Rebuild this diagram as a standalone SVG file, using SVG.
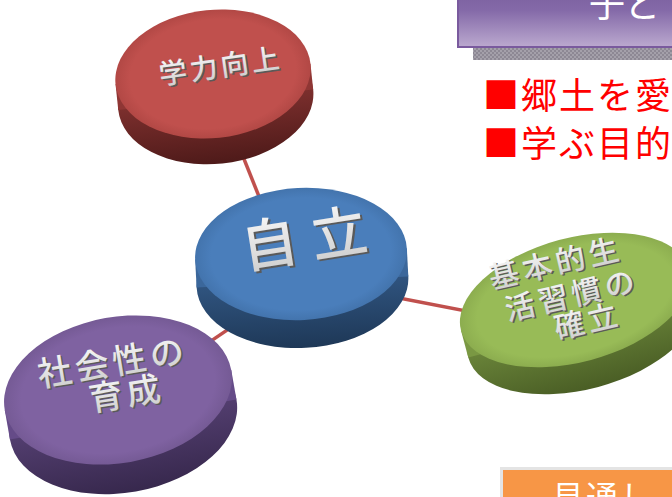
<svg xmlns="http://www.w3.org/2000/svg" width="672" height="497" viewBox="0 0 672 497">
<defs>
<style>
.cjk{font-family:"Noto Sans CJK JP","Noto Sans CJK SC",sans-serif;}
.lbl{font-family:"Noto Sans CJK JP","Noto Sans CJK SC",sans-serif;font-weight:500;text-anchor:middle;}
.sh{fill:#5a5a5a;}
.fg{fill:url(#silver);}
.conn{stroke:#c0504d;stroke-width:3.5;fill:none;}
</style>
<linearGradient id="silver" x1="0" y1="0" x2="0" y2="1">
<stop offset="0" stop-color="#ffffff"/><stop offset="1" stop-color="#c9c9c9"/>
</linearGradient>
<linearGradient id="banner" x1="0" y1="0" x2="0" y2="1">
<stop offset="0" stop-color="#7b5f9f"/><stop offset="0.35" stop-color="#8469a8"/><stop offset="1" stop-color="#bba9cf"/>
</linearGradient>
<pattern id="chk" width="4" height="4" patternUnits="userSpaceOnUse">
<rect width="4" height="4" fill="#a4a0aa"/><rect width="2" height="2" fill="#8d8894"/><rect x="2" y="2" width="2" height="2" fill="#8d8894"/>
</pattern>
<linearGradient id="sideR" x1="0" y1="0" x2="0" y2="1"><stop offset="0" stop-color="#a84341"/><stop offset="1" stop-color="#4e1a19"/></linearGradient>
<linearGradient id="sideB" x1="0" y1="0" x2="0" y2="1"><stop offset="0" stop-color="#416fa6"/><stop offset="1" stop-color="#1e3857"/></linearGradient>
<linearGradient id="sideG" x1="0" y1="0" x2="0" y2="1"><stop offset="0" stop-color="#86a64c"/><stop offset="1" stop-color="#4a5e25"/></linearGradient>
<linearGradient id="sideP" x1="0" y1="0" x2="0" y2="1"><stop offset="0" stop-color="#6d5390"/><stop offset="1" stop-color="#37284d"/></linearGradient>
<radialGradient id="topR" cx="0.5" cy="0.5" r="0.5"><stop offset="0.85" stop-color="#c0504d"/><stop offset="1" stop-color="#b24845"/></radialGradient>
<radialGradient id="topB" cx="0.5" cy="0.5" r="0.5"><stop offset="0.85" stop-color="#4a7ebb"/><stop offset="1" stop-color="#4374ad"/></radialGradient>
<radialGradient id="topG" cx="0.5" cy="0.5" r="0.5"><stop offset="0.85" stop-color="#98bb57"/><stop offset="1" stop-color="#8cad4f"/></radialGradient>
<radialGradient id="topP" cx="0.5" cy="0.5" r="0.5"><stop offset="0.85" stop-color="#7f62a1"/><stop offset="1" stop-color="#755a95"/></radialGradient>
</defs>
<rect width="672" height="497" fill="#ffffff"/>

<g id="title-banner">
<rect x="473" y="47" width="210" height="13" fill="url(#chk)"/>
<rect x="458" y="-10" width="230" height="57" fill="url(#banner)" stroke="#7a5a9e" stroke-width="2"/>
<text class="cjk" x="589" y="17" font-size="36" fill="#ffffff">子ど</text>
</g>

<g id="goals">
<text class="cjk" x="483" y="109" font-size="36" letter-spacing="2" fill="#ff0000">■郷土を愛</text>
<text class="cjk" x="483" y="157" font-size="36" letter-spacing="2" fill="#ff0000">■学ぶ目的</text>
</g>

<g id="outlook-box">
<rect x="500" y="467" width="190" height="40" fill="#e4e4e4"/>
<rect x="503" y="470" width="190" height="40" fill="#f79646"/>
<text class="cjk" x="552" y="509" font-size="32" letter-spacing="2" fill="#ffffff">見通し</text>
</g>

<g id="connectors">
<line class="conn" x1="210" y1="74" x2="282" y2="254"/>
<line class="conn" x1="301" y1="279" x2="575" y2="332"/>
<line class="conn" x1="118" y1="404" x2="301" y2="280"/>
</g>

<g id="node-gakuryoku">
<g transform="translate(213,74) rotate(-6)">
<ellipse cx="0" cy="26" rx="98" ry="64" fill="url(#sideR)"/>
<rect x="-98" y="0" width="196" height="26" fill="#8f3634"/>
<ellipse cx="0" cy="0" rx="98" ry="64" fill="url(#topR)"/>
</g>
<g transform="translate(219,66) rotate(-8)">
<text class="lbl sh" x="3" y="12" font-size="28" letter-spacing="3">学力向上</text>
<text class="lbl fg" x="1.5" y="10.5" font-size="28" letter-spacing="3">学力向上</text>
</g>
</g>

<g id="node-jiritsu">
<g transform="translate(301,254) rotate(-3)">
<ellipse cx="0" cy="28" rx="106" ry="66" fill="url(#sideB)"/>
<rect x="-106" y="0" width="212" height="28" fill="#3b679b"/>
<ellipse cx="0" cy="0" rx="106" ry="66" fill="url(#topB)"/>
</g>
<g transform="translate(304,238) rotate(-9)">
<text class="lbl sh" x="9" y="23" font-size="56" font-weight="300" letter-spacing="14">自立</text>
<text class="lbl fg" x="7" y="21" font-size="56" font-weight="300" letter-spacing="14">自立</text>
</g>
</g>

<g id="node-seikatsu">
<g transform="translate(575,300) rotate(-15)">
<ellipse cx="0" cy="28" rx="118" ry="62" fill="url(#sideG)"/>
<rect x="-118" y="0" width="236" height="28" fill="#7a9843"/>
<ellipse cx="0" cy="0" rx="118" ry="62" fill="url(#topG)"/>
</g>
<g transform="translate(553,263) rotate(-13)">
<text class="lbl sh" x="4" y="13" font-size="30" letter-spacing="4">基本的生</text>
<text class="lbl fg" x="2.5" y="11.5" font-size="30" letter-spacing="4">基本的生</text>
</g>
<g transform="translate(569,295) rotate(-13)">
<text class="lbl sh" x="4" y="13" font-size="30" letter-spacing="4">活習慣の</text>
<text class="lbl fg" x="2.5" y="11.5" font-size="30" letter-spacing="4">活習慣の</text>
</g>
<g transform="translate(585,321) rotate(-13)">
<text class="lbl sh" x="4" y="13" font-size="30" letter-spacing="4">確立</text>
<text class="lbl fg" x="2.5" y="11.5" font-size="30" letter-spacing="4">確立</text>
</g>
</g>

<g id="node-shakaisei">
<g transform="translate(118,390) rotate(-10)">
<ellipse cx="0" cy="30" rx="115" ry="73" fill="url(#sideP)"/>
<rect x="-115" y="0" width="230" height="30" fill="#654b88"/>
<ellipse cx="0" cy="0" rx="115" ry="73" fill="url(#topP)"/>
</g>
<g transform="translate(110,362) rotate(-9.5)">
<text class="lbl sh" x="4" y="14.5" font-size="34" letter-spacing="4">社会性の</text>
<text class="lbl fg" x="2.5" y="13" font-size="34" letter-spacing="4">社会性の</text>
</g>
<g transform="translate(124,393) rotate(-9)">
<text class="lbl sh" x="4" y="14.5" font-size="34" letter-spacing="4">育成</text>
<text class="lbl fg" x="2.5" y="13" font-size="34" letter-spacing="4">育成</text>
</g>
</g>
</svg>
